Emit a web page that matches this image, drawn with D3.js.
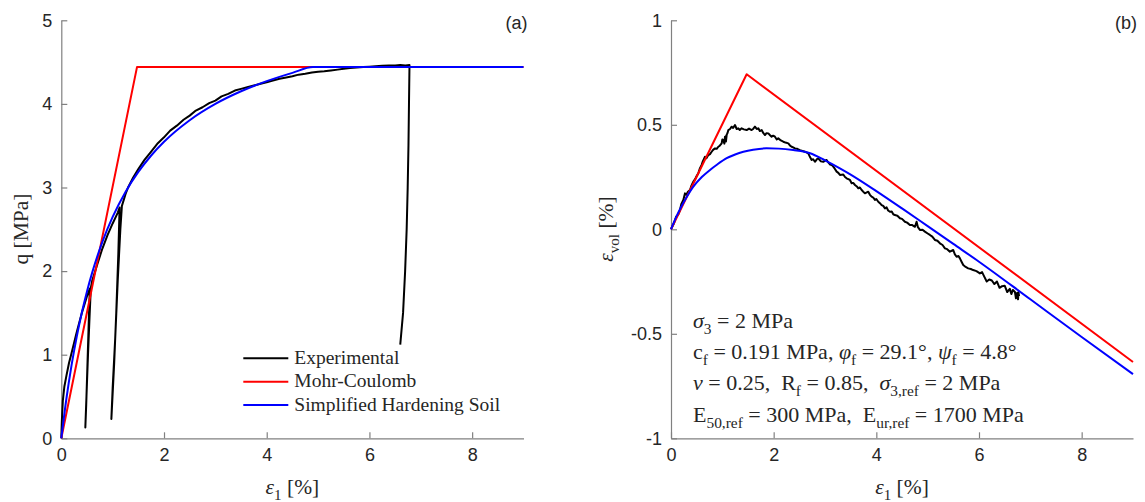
<!DOCTYPE html>
<html>
<head>
<meta charset="utf-8">
<script src="https://cdn.jsdelivr.net/npm/d3@7"></script>
<style>
  html, body { margin: 0; padding: 0; background: #fff; }
  svg { display: block; }
  text { white-space: pre; }
</style>
</head>
<body>
<svg id="chart" width="1145" height="502"></svg>
<script>
// ---------------- DATA ----------------
const xTicks = [0, 2, 4, 6, 8];
const qTicks = [0, 1, 2, 3, 4, 5];
const volTicks = [-1, -0.5, 0, 0.5, 1];
const legendLabels = ["Experimental", "Mohr-Coulomb", "Simplified Hardening Soil"];
const seriesColors = ["#000000", "#ff0000", "#0000ff"];

// Panel (a): q vs eps1
const expQEps = [0, 0.01, 0.03, 0.06, 0.1, 0.15, 0.2, 0.3, 0.4, 0.5, 0.555,
  0.53, 0.505, 0.485, 0.468, 0.49, 0.52, 0.55, 0.575, 0.6, 0.7, 0.8, 0.9, 1.0, 1.1, 1.135,
  1.11, 1.07, 1.03, 0.975, 1.0, 1.05, 1.1, 1.15, 1.18, 1.25, 1.3, 1.4, 1.5, 1.62, 1.75, 1.88,
  2.0, 2.12, 2.25, 2.38, 2.5, 2.62, 2.75, 2.88, 3.0, 3.12, 3.25, 3.38, 3.5, 3.62, 3.75, 3.9,
  4.0, 4.12, 4.25, 4.38, 4.5, 4.62, 4.75, 4.88, 5.0, 5.12, 5.25, 5.38, 5.5, 5.62, 5.75, 5.88,
  6.0, 6.12, 6.25, 6.38, 6.5, 6.6, 6.7, 6.78,
  6.77, 6.76, 6.745, 6.725, 6.695, 6.655, 6.6];
const expQ = [0, 0.2, 0.45, 0.62, 0.75, 0.9, 1.02, 1.27, 1.5, 1.7, 1.79,
  1.3, 0.8, 0.4, 0.13, 0.5, 1.0, 1.45, 1.8, 1.88, 2.08, 2.27, 2.43, 2.57, 2.7, 2.76,
  2.2, 1.5, 0.9, 0.23, 0.6, 1.2, 1.9, 2.5, 2.78, 2.92, 3.0, 3.12, 3.22, 3.33, 3.43, 3.53,
  3.6, 3.68, 3.74, 3.81, 3.86, 3.92, 3.96, 4.01, 4.04, 4.09, 4.12, 4.16, 4.18, 4.2, 4.22, 4.245,
  4.26, 4.28, 4.3, 4.315, 4.33, 4.35, 4.36, 4.375, 4.385, 4.39, 4.40, 4.41, 4.42, 4.43, 4.435, 4.44,
  4.445, 4.45, 4.455, 4.458, 4.46, 4.465, 4.46, 4.465,
  4.0, 3.5, 3.0, 2.5, 2.0, 1.5, 1.12];

const mcQEps = [0, 1.474, 9];
const mcQ = [0, 4.44, 4.44];

const hsQEps = [0, 0.1, 0.2, 0.3, 0.4, 0.5, 0.6, 0.8, 1.0, 1.25, 1.5, 1.75, 2.0, 2.5, 3.0, 3.5, 4.0, 4.5, 4.9, 9];
const hsQ = [0, 0.476, 0.875, 1.213, 1.504, 1.757, 1.979, 2.35, 2.648, 2.947, 3.186, 3.383, 3.547, 3.805, 4.0, 4.151, 4.272, 4.371, 4.44, 4.44];

// Panel (b): eps_vol vs eps1
const expVEps = [0, 0.06, 0.1, 0.14, 0.175, 0.2, 0.24, 0.273, 0.3, 0.33, 0.37, 0.4, 0.435, 0.47, 0.5, 0.532, 0.56, 0.597, 0.62, 0.662,
  0.69, 0.727, 0.76, 0.792, 0.82, 0.857, 0.89, 0.922, 0.95, 0.987, 1.0, 1.019, 1.04, 1.052, 1.07, 1.084, 1.06, 1.1, 1.117, 1.15,
  1.182, 1.21, 1.246, 1.28, 1.311, 1.34, 1.376, 1.42, 1.474, 1.52, 1.571, 1.6, 1.636, 1.67, 1.701, 1.73, 1.766, 1.8, 1.831, 1.86,
  1.896, 1.93, 1.96, 1.99, 2.025, 2.06, 2.09, 2.14, 2.188, 2.23, 2.285, 2.32, 2.35, 2.38, 2.415, 2.46, 2.512, 2.56, 2.61, 2.64,
  2.674, 2.7, 2.74, 2.77, 2.804, 2.84, 2.869, 2.92, 2.966, 3.01, 3.032, 3.063, 3.1, 3.13, 3.161, 3.19, 3.227, 3.26, 3.291, 3.356,
  3.39, 3.421, 3.486, 3.519, 3.55, 3.584, 3.62, 3.649, 3.68, 3.714, 3.745, 3.778, 3.843, 3.875, 3.908, 3.94, 3.973, 4.0, 4.038, 4.07,
  4.103, 4.135, 4.168, 4.2, 4.23, 4.265, 4.3, 4.33, 4.362, 4.41, 4.46, 4.5, 4.557, 4.6, 4.654, 4.7, 4.752, 4.784, 4.81, 4.849,
  4.9, 4.946, 5.0, 5.044, 5.09, 5.141, 5.19, 5.239, 5.29, 5.336, 5.38, 5.433, 5.498, 5.53, 5.563, 5.6, 5.628, 5.66, 5.693, 5.74,
  5.79, 5.84, 5.887, 5.95, 6.018, 6.06, 6.1, 6.15, 6.2, 6.25, 6.3, 6.35, 6.4, 6.45, 6.5, 6.55, 6.6, 6.63, 6.66, 6.7,
  6.72, 6.74, 6.76, 6.77, 6.78];
const expV = [0, 0.03, 0.06, 0.07, 0.092, 0.12, 0.14, 0.172, 0.165, 0.18, 0.188, 0.21, 0.228, 0.24, 0.255, 0.268, 0.29, 0.308, 0.325, 0.347,
  0.34, 0.355, 0.36, 0.371, 0.38, 0.387, 0.385, 0.395, 0.40, 0.411, 0.43, 0.427, 0.41, 0.443, 0.42, 0.451, 0.44, 0.46, 0.475, 0.48,
  0.491, 0.485, 0.499, 0.48, 0.483, 0.475, 0.483, 0.478, 0.475, 0.482, 0.475, 0.48, 0.491, 0.48, 0.483, 0.47, 0.475, 0.46, 0.451, 0.46,
  0.459, 0.45, 0.443, 0.448, 0.443, 0.43, 0.435, 0.425, 0.419, 0.415, 0.411, 0.40, 0.395, 0.392, 0.387, 0.385, 0.379, 0.375, 0.371, 0.368,
  0.363, 0.35, 0.332, 0.335, 0.323, 0.335, 0.34, 0.325, 0.323, 0.33, 0.332, 0.32, 0.31, 0.308, 0.30, 0.29, 0.276, 0.27, 0.26, 0.262,
  0.25, 0.244, 0.236, 0.22, 0.222, 0.212, 0.205, 0.196, 0.2, 0.188, 0.18, 0.172, 0.18, 0.165, 0.156, 0.152, 0.14, 0.145, 0.132, 0.125,
  0.116, 0.112, 0.10, 0.105, 0.09, 0.084, 0.085, 0.072, 0.068, 0.065, 0.053, 0.05, 0.036, 0.032, 0.021, 0.02, 0.012, 0.036, 0.01, -0.003,
  -0.002, -0.011, -0.02, -0.027, -0.035, -0.051, -0.055, -0.067, -0.075, -0.091, -0.095, -0.107, -0.099, -0.12, -0.131, -0.128, -0.139, -0.155, -0.171, -0.18,
  -0.187, -0.19, -0.195, -0.2, -0.211, -0.205, -0.225, -0.25, -0.24, -0.245, -0.262, -0.25, -0.28, -0.272, -0.27, -0.30, -0.285, -0.31, -0.29, -0.30,
  -0.33, -0.305, -0.335, -0.30, -0.32];

const mcVEps = [0, 1.474, 9];
const mcV = [0, 0.742, -0.635];

const hsVEps = [0, 0.1, 0.2, 0.3, 0.435, 0.6, 0.76, 0.9, 1.085, 1.25, 1.41, 1.6, 1.86, 2.1, 2.38, 2.71, 3.0, 3.29, 3.5, 4.0, 4.5, 5.0, 5.5, 6.0, 7.0, 8.0, 9.0];
const hsV = [0, 0.058, 0.108, 0.152, 0.204, 0.25, 0.284, 0.31, 0.34, 0.358, 0.371, 0.381, 0.3875, 0.386, 0.379, 0.364, 0.33, 0.292, 0.262, 0.183, 0.1, 0.015, -0.07, -0.155, -0.335, -0.515, -0.693];

// Annotation text (parts: [text, style]; style: i = italic, s = subscript)
const annotationLines = [
  [["σ", "i"], ["3", "s"], [" = 2 MPa", ""]],
  [["c", ""], ["f", "s"], [" = 0.191 MPa, ", ""], ["φ", "i"], ["f", "s"], [" = 29.1°, ", ""], ["ψ", "i"], ["f", "s"], [" = 4.8°", ""]],
  [["ν", "i"], [" = 0.25,  R", ""], ["f", "s"], [" = 0.85,  ", ""], ["σ", "i"], ["3,ref", "s"], [" = 2 MPa", ""]],
  [["E", ""], ["50,ref", "s"], [" = 300 MPa,  E", ""], ["ur,ref", "s"], [" = 1700 MPa", ""]]
];

// ---------------- DRAW ----------------
const svg = d3.select("#chart");
const SERIF = "'Liberation Serif', 'Times New Roman', serif";
const SANS = "'Liberation Sans', Arial, sans-serif";
const AXIS_GRAY = "#808080";
const TEXT_COL = "#262626";

function rich(g, parts, x, y, opts = {}) {
  const size = opts.size || 19.5;
  const t = g.append("text")
    .attr("x", x).attr("y", y)
    .attr("font-family", SERIF)
    .attr("font-size", size)
    .attr("fill", opts.fill || TEXT_COL)
    .attr("text-anchor", opts.anchor || "start");
  if (opts.transform) t.attr("transform", opts.transform);
  const subShift = Math.round(size * 0.26);
  let shift = 0;
  parts.forEach(([s, st]) => {
    const sub = st.includes("s");
    const target = sub ? subShift : 0;
    const ts = t.append("tspan").text(s).attr("dy", target - shift);
    shift = target;
    if (sub) ts.attr("font-size", size * 0.7);
    if (st.includes("i")) ts.attr("font-style", "italic");
  });
  return t;
}

function panel(cfg) {
  const x = d3.scaleLinear().domain([0, 9]).range([cfg.x0, cfg.x1]);
  const y = d3.scaleLinear().domain(cfg.yDomain).range([438.3, 20.3]);
  const g = svg.append("g");

  const xAxis = d3.axisBottom(x).tickValues(xTicks).tickSizeInner(-6).tickSizeOuter(0).tickPadding(10)
    .tickFormat(d => String(d));
  const yAxis = d3.axisLeft(y).tickValues(cfg.yTicks).tickSizeInner(-6).tickSizeOuter(0).tickPadding(9)
    .tickFormat(d => String(d));

  const gx = g.append("g").attr("transform", `translate(0,${y.range()[0]})`).call(xAxis);
  const gy = g.append("g").attr("transform", `translate(${cfg.x0},0)`).call(yAxis);
  [gx, gy].forEach(a => {
    a.select(".domain").attr("stroke", AXIS_GRAY).attr("stroke-width", 1.2);
    a.selectAll(".tick line").attr("stroke", AXIS_GRAY).attr("stroke-width", 1.2);
    a.selectAll(".tick text").attr("font-family", SANS).attr("font-size", 18).attr("fill", TEXT_COL);
  });

  const line = d3.line().x(d => x(d[0])).y(d => y(d[1]));
  const smooth = d3.line().x(d => x(d[0])).y(d => y(d[1])).curve(d3.curveMonotoneX);
  cfg.series.forEach((s, i) => {
    const pts = s.xs.map((v, k) => [v, s.ys[k]]);
    g.append("path").datum(pts)
      .attr("d", s.smooth ? smooth : line)
      .attr("fill", "none")
      .attr("stroke", seriesColors[i])
      .attr("stroke-width", 2)
      .attr("stroke-linejoin", "round");
  });

  // panel letter
  g.append("text").attr("x", cfg.x1 + 4).attr("y", 29).attr("text-anchor", "end")
    .attr("font-family", SANS).attr("font-size", 18).attr("fill", TEXT_COL).text(cfg.letter);

  // x label
  rich(g, [["ε", "i"], ["1", "s"], [" [%]", ""]], (cfg.x0 + cfg.x1) / 2, 494, { anchor: "middle", size: 21.5 });
  // y label
  rich(g, cfg.yLabel, 0, 0, { anchor: "middle", size: 21.5, transform: `translate(${cfg.yLabelX},229) rotate(-90)` });
  return { g, x, y };
}

const A = panel({
  x0: 61.3, x1: 523.5, yDomain: [0, 5], yTicks: qTicks, letter: "(a)",
  yLabel: [["q [MPa]", ""]], yLabelX: 28,
  series: [
    { xs: expQEps, ys: expQ },
    { xs: mcQEps, ys: mcQ },
    { xs: hsQEps, ys: hsQ, smooth: true }
  ]
});

const B = panel({
  x0: 671, x1: 1133, yDomain: [-1, 1], yTicks: volTicks, letter: "(b)",
  yLabel: [["ε", "i"], ["vol", "s"], [" [%]", ""]], yLabelX: 613,
  series: [
    { xs: expVEps, ys: expV },
    { xs: mcVEps, ys: mcV },
    { xs: hsVEps, ys: hsV, smooth: true }
  ]
});

// legend in panel (a)
const leg = A.g.append("g");
legendLabels.forEach((lab, i) => {
  const ly = 358.3 + i * 23.4;
  leg.append("line").attr("x1", 243.3).attr("x2", 288.3).attr("y1", ly).attr("y2", ly)
    .attr("stroke", seriesColors[i]).attr("stroke-width", 2);
  rich(leg, [[lab, ""]], 294.3, ly + 5.5);
});

// annotation in panel (b)
annotationLines.forEach((parts, i) => {
  rich(B.g, parts, 693, 328 + i * 31.2, { size: 22 });
});
</script>
</body>
</html>
